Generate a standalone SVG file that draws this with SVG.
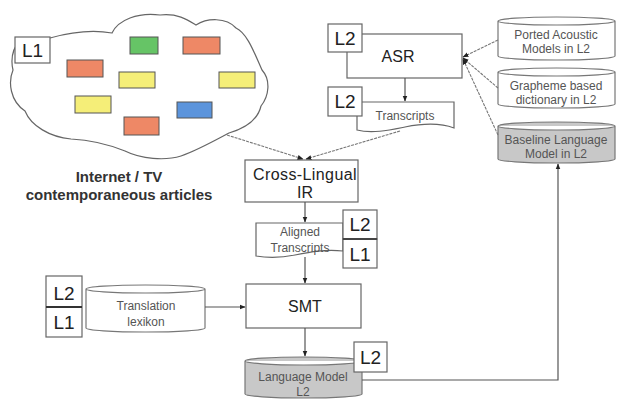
<svg xmlns="http://www.w3.org/2000/svg" width="618" height="401" viewBox="0 0 618 401">
<defs>
<marker id="ah" viewBox="0 0 10 10" refX="9" refY="5" markerWidth="6" markerHeight="6" markerUnits="userSpaceOnUse" orient="auto"><path d="M0,1 L10,5 L0,9 Z" fill="#222"/></marker>
</defs>
<style>
.box{fill:#fff;stroke:#666;stroke-width:1.2}
.lbox{fill:#fff;stroke:#666;stroke-width:1.2}
.cyl{fill:#fff;stroke:#777;stroke-width:1.2}
.cylg{fill:#c8c8c8;stroke:#777;stroke-width:1.2}
.edge{fill:none;stroke:#555;stroke-width:1.2}
.dedge{fill:none;stroke:#777;stroke-width:1.1;stroke-dasharray:3 1}
.big{font-family:"Liberation Sans",Arial,sans-serif;font-size:16px;fill:#222;text-anchor:middle}
.lt{font-family:"Liberation Sans",Arial,sans-serif;font-size:19px;fill:#222;text-anchor:middle}
.sm{font-family:"Liberation Sans",Arial,sans-serif;font-size:12px;fill:#555;text-anchor:middle}
.cap{font-family:"Liberation Sans",Arial,sans-serif;font-size:15px;font-weight:bold;fill:#333;text-anchor:middle}
.note{stroke:#555;stroke-width:1}
</style>

<g id="cloud">
<path d="M50,38 C75,31 95,30 112,33 C118,20 138,12 160,15 C178,13 188,20 196,25 C207,18 226,17 236,28 C247,33 254,52 262,70 C271,80 269,96 261,106 C258,119 246,128 229,133 C214,141 196,151 181,156 C165,161 141,159 125,151 C110,145 91,140 71,139 C50,137 31,126 25,111 C10,101 8,82 13,70 C10,57 14,47 20,40 Z" fill="#fff" stroke="#666" stroke-width="1.2"/>
<rect x="15" y="37" width="35" height="26" class="lbox"/>
<text x="32.5" y="57" class="lt">L1</text>
<rect x="130" y="37" width="28" height="17" fill="#66c466" class="note"/>
<rect x="183" y="37" width="37" height="17" fill="#ee8866" class="note"/>
<rect x="67" y="60" width="36" height="17" fill="#ee8866" class="note"/>
<rect x="119" y="72" width="36" height="16" fill="#f5ee78" class="note"/>
<rect x="219" y="72" width="36" height="16" fill="#f5ee78" class="note"/>
<rect x="75" y="96" width="36" height="17" fill="#f5ee78" class="note"/>
<rect x="177" y="102" width="35" height="16" fill="#5b94dc" class="note"/>
<rect x="124" y="117" width="35" height="18" fill="#ee8866" class="note"/>
<text x="119" y="182" class="cap">Internet / TV</text>
<text x="119" y="200" class="cap">contemporaneous articles</text>
</g>

<g id="asr">
<rect x="347" y="34" width="115" height="44" class="box"/>
<text x="398" y="62" class="big" font-size="15">ASR</text>
<rect x="328" y="24" width="34" height="28" class="lbox"/>
<text x="345" y="45" class="lt">L2</text>
</g>

<g id="transcripts">
<path d="M357,102 H454 V128 C438,122 420,124 405,127 C390,130 372,134 357,130 Z" class="box"/>
<text x="405" y="120" class="sm">Transcripts</text>
<rect x="328" y="87" width="34" height="29" class="lbox"/>
<text x="345" y="108" class="lt">L2</text>
</g>

<g id="ported">
<path d="M498,21 A58.5,4 0 0 1 615,21 V56 A58.5,4 0 0 1 498,56 Z M498,21 A58.5,4 0 0 0 615,21" class="cyl"/>
<text x="556" y="39" class="sm">Ported Acoustic</text>
<text x="556" y="53" class="sm">Models in L2</text>
</g>

<g id="grapheme">
<path d="M498,72 A58.5,4 0 0 1 615,72 V104 A58.5,4 0 0 1 498,104 Z M498,72 A58.5,4 0 0 0 615,72" class="cyl"/>
<text x="556" y="90" class="sm">Grapheme based</text>
<text x="556" y="104" class="sm">dictionary in L2</text>
</g>

<g id="baseline">
<path d="M498,126 A58.5,4 0 0 1 615,126 V159 A58.5,4 0 0 1 498,159 Z M498,126 A58.5,4 0 0 0 615,126" class="cylg"/>
<text x="556" y="144" class="sm">Baseline Language</text>
<text x="556" y="158" class="sm">Model in L2</text>
</g>

<g id="crossir">
<rect x="245" y="160" width="113" height="42" class="box"/>
<text x="305" y="180" class="big" letter-spacing="0.4">Cross-Lingual</text>
<text x="305" y="198" class="big">IR</text>
</g>

<g id="aligned">
<path d="M256,223 H343 V251 C325,249 310,252 295,255 C280,258 268,258 256,256 Z" class="box"/>
<text x="300" y="236" class="sm">Aligned</text>
<text x="300" y="252" class="sm">Transcripts</text>
<rect x="343" y="210" width="34" height="29" class="lbox"/>
<text x="360" y="231" class="lt">L2</text>
<rect x="343" y="239" width="34" height="29" class="lbox"/>
<text x="360" y="261" class="lt">L1</text>
<line x1="343" y1="239" x2="377" y2="239" stroke="#444" stroke-width="2"/>
</g>

<g id="smt">
<rect x="246" y="284" width="115" height="44" class="box"/>
<text x="305" y="312" class="big">SMT</text>
</g>

<g id="lexicon">
<path d="M86,289 A59.5,4 0 0 1 205,289 V328 A59.5,4 0 0 1 86,328 Z M86,289 A59.5,4 0 0 0 205,289" class="cyl"/>
<text x="146" y="310" class="sm">Translation</text>
<text x="146" y="326" class="sm">lexikon</text>
<rect x="46" y="276" width="36" height="61" class="lbox"/>
<line x1="46" y1="307" x2="82" y2="307" stroke="#333" stroke-width="2"/>
<text x="64" y="300" class="lt">L2</text>
<text x="64" y="329" class="lt">L1</text>
</g>

<g id="langmodel">
<path d="M245,361 A58.5,4 0 0 1 362,361 V394 A58.5,4 0 0 1 245,394 Z M245,361 A58.5,4 0 0 0 362,361" class="cylg"/>
<text x="303" y="381" class="sm">Language Model</text>
<text x="303" y="396" class="sm">L2</text>
<rect x="354" y="342" width="33" height="30" class="lbox"/>
<text x="370.5" y="364" class="lt">L2</text>
</g>

<g id="connectors">
<line x1="405" y1="78" x2="405" y2="101" class="edge" marker-end="url(#ah)"/>
<line x1="400" y1="131" x2="306" y2="159" class="dedge" marker-end="url(#ah)"/>
<line x1="227" y1="135" x2="303" y2="159" class="dedge" marker-end="url(#ah)"/>
<line x1="305" y1="202" x2="305" y2="222" class="edge" marker-end="url(#ah)"/>
<line x1="305" y1="257" x2="305" y2="283" class="edge" marker-end="url(#ah)"/>
<line x1="205" y1="307" x2="245" y2="307" class="edge" marker-end="url(#ah)"/>
<line x1="305" y1="328" x2="305" y2="356" class="edge" marker-end="url(#ah)"/>
<polyline points="362,380 558,380 558,164" class="edge" marker-end="url(#ah)"/>
<line x1="498" y1="40" x2="463" y2="57" class="dedge" marker-end="url(#ah)"/>
<line x1="498" y1="88" x2="463" y2="58" class="dedge" marker-end="url(#ah)"/>
<line x1="498" y1="135" x2="463" y2="59" class="dedge" marker-end="url(#ah)"/>
</g>
</svg>
